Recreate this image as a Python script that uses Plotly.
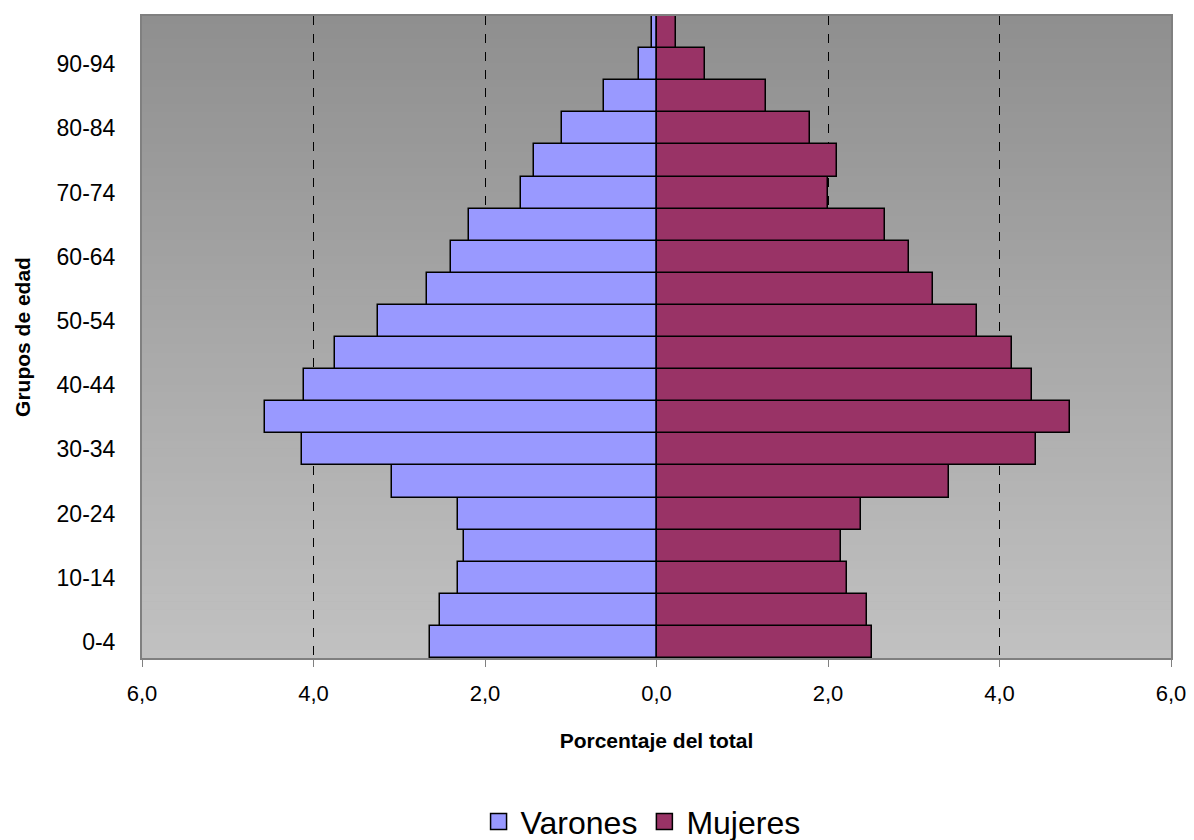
import plotly.graph_objects as go

grupos = ['0-4', '5-9', '10-14', '15-19', '20-24', '25-29', '30-34', '35-39',
          '40-44', '45-49', '50-54', '55-59', '60-64', '65-69', '70-74', '75-79',
          '80-84', '85-89', '90-94', '95-99']
varones = [2.64, 2.52, 2.32, 2.25, 2.32, 3.08, 4.13, 4.57, 4.11, 3.75,
           3.25, 2.68, 2.40, 2.19, 1.58, 1.43, 1.10, 0.61, 0.20, 0.05]
mujeres = [2.51, 2.45, 2.22, 2.15, 2.38, 3.41, 4.43, 4.82, 4.38, 4.15,
           3.74, 3.23, 2.95, 2.66, 2.00, 2.10, 1.79, 1.28, 0.57, 0.23]
tick_vals = [-6, -4, -2, 0, 2, 4, 6]
tick_text = ['6,0', '4,0', '2,0', '0,0', '2,0', '4,0', '6,0']
y_labels = grupos[::2]

COL_V = '#9999FF'
COL_M = '#993366'

fig = go.Figure()
fig.add_trace(go.Bar(y=grupos, x=[-v for v in varones], name='Varones', orientation='h',
                     showlegend=False,
                     marker=dict(color=COL_V, line=dict(color='black', width=1.5))))
fig.add_trace(go.Bar(y=grupos, x=mujeres, name='Mujeres', orientation='h',
                     showlegend=False,
                     marker=dict(color=COL_M, line=dict(color='black', width=1.5))))
# legend entries with larger square symbols
for name, col in [('Varones', COL_V), ('Mujeres', COL_M)]:
    fig.add_trace(go.Scatter(x=[None], y=[None], mode='markers', name=name,
                             marker=dict(symbol='square', size=16, color=col,
                                         line=dict(color='black', width=1.5))))

# vertical gradient background
n = 80
top = (0x8f, 0x8f, 0x8f)
bot = (0xc1, 0xc1, 0xc1)
shapes = []
for i in range(n):
    t = i / (n - 1)
    c = tuple(round(top[k] + (bot[k] - top[k]) * t) for k in range(3))
    shapes.append(dict(type='rect', xref='paper', yref='paper', x0=0, x1=1,
                       y0=1 - (i + 1) / n, y1=1 - i / n + 0.001, layer='below',
                       line=dict(width=0), fillcolor='rgb(%d,%d,%d)' % c))

fig.update_layout(
    width=1186, height=832,
    margin=dict(l=134, r=23, t=6, b=182),
    paper_bgcolor='white', plot_bgcolor='#a8a8a8',
    barmode='relative', bargap=0,
    shapes=shapes,
    font=dict(family='Liberation Sans, Arial, sans-serif', color='black'),
    showlegend=True,
    legend=dict(orientation='h', x=0.485, xanchor='center',
                yref='container', y=0.022, yanchor='middle',
                font=dict(size=32), itemsizing='trace', itemwidth=34, tracegroupgap=0),
)
fig.update_xaxes(range=[-6, 6], tickvals=tick_vals, ticktext=tick_text,
                 tickfont=dict(size=22), ticks='outside', ticklen=7, tickcolor='#808080',
                 ticklabelstandoff=8,
                 showgrid=True, gridcolor='black', griddash='dash', gridwidth=1,
                 zeroline=False, showline=True, linecolor='#808080', linewidth=2, mirror=True,
                 title=dict(text='<b>Porcentaje del total</b>', font=dict(size=21), standoff=28))
fig.update_yaxes(categoryorder='array', categoryarray=grupos,
                 tickvals=y_labels, ticktext=y_labels, tickfont=dict(size=23),
                 ticks='', ticklabelstandoff=20, showgrid=False, zeroline=False,
                 showline=True, linecolor='#808080', linewidth=2, mirror=True,
                 range=[-0.5, 19.5],
                 title=dict(text='<b>Grupos de edad</b>', font=dict(size=21), standoff=20))

fig.write_html('out.html')
